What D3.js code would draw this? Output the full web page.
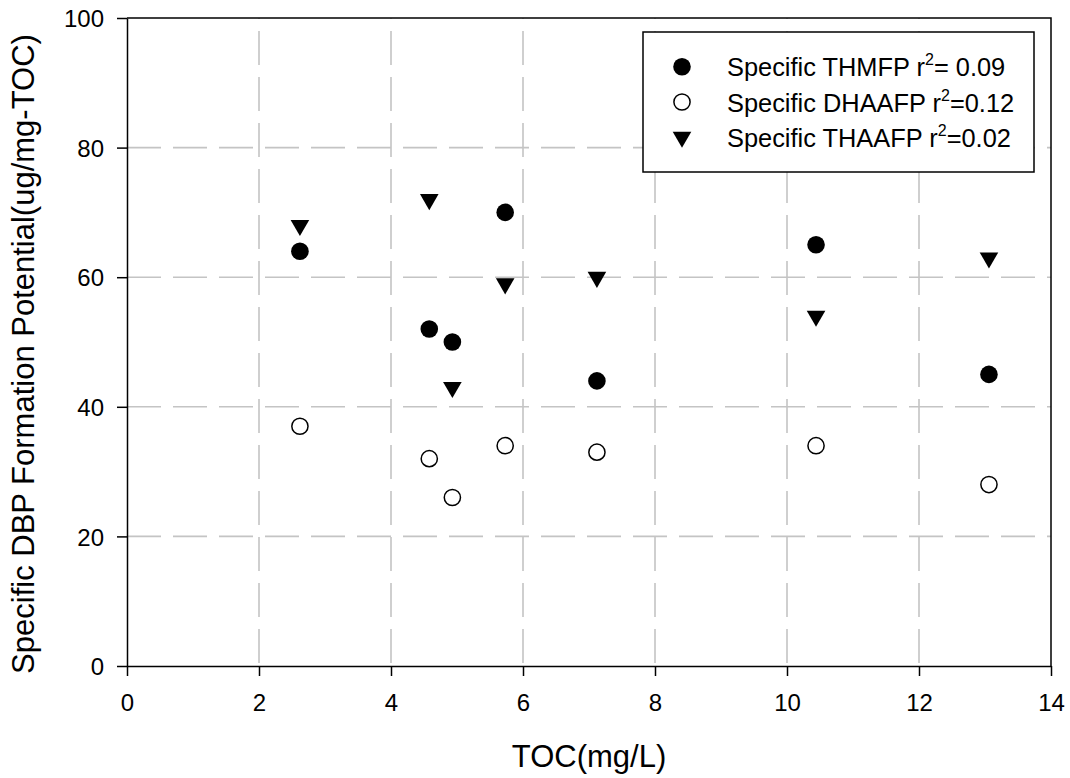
<!DOCTYPE html>
<html>
<head>
<meta charset="utf-8">
<script src="https://cdn.jsdelivr.net/npm/d3@7"></script>
<style>
  html, body { margin: 0; padding: 0; background: #fff; }
  svg { display: block; font-family: "Liberation Sans", Arial, Helvetica, sans-serif; }
</style>
</head>
<body>
<svg id="chart" width="1070" height="778"></svg>
<script>
// TOC of each sample (mg/L)
const toc = [2.62, 4.58, 4.93, 5.73, 7.12, 10.44, 13.06];
// Specific formation potentials (ug/mg-TOC)
const thmfp  = [64, 52, 50, 70, 44, 65, 45];
const dhaafp = [37, 32, 26, 34, 33, 34, 28];
const thaafp = [68, 72, 43, 59, 60, 54, 63];

const xTicks = [0, 2, 4, 6, 8, 10, 12, 14];
const yTicks = [0, 20, 40, 60, 80, 100];

const seriesNames = ["Specific THMFP", "Specific DHAAFP", "Specific THAAFP"];
const seriesR2 = ["= 0.09", "=0.12", "=0.02"];

const svg = d3.select("#chart");
const plotLeft = 127, plotRight = 1051, plotTop = 18, plotBottom = 666;

const x = d3.scaleLinear().domain([0, 14]).range([plotLeft, plotRight]);
const y = d3.scaleLinear().domain([0, 100]).range([plotBottom, plotTop]);

// grid lines
const grid = svg.append("g").attr("stroke", "#c4c4c4").attr("stroke-width", 1.6).attr("fill", "none");
grid.selectAll("line.v").data(xTicks.filter(d => d > 0 && d < 14)).join("line")
  .attr("x1", d => x(d)).attr("x2", d => x(d))
  .attr("y1", plotBottom).attr("y2", plotTop)
  .attr("stroke-dasharray", "34,12").attr("stroke-dashoffset", 43);
grid.selectAll("line.h").data(yTicks.filter(d => d > 0 && d < 100)).join("line")
  .attr("x1", plotLeft).attr("x2", plotRight)
  .attr("y1", d => y(d)).attr("y2", d => y(d))
  .attr("stroke-dasharray", "34,12");

// frame (top and right)
svg.append("path")
  .attr("d", `M${plotLeft},${plotTop}H${plotRight}V${plotBottom}`)
  .attr("fill", "none").attr("stroke", "#000").attr("stroke-width", 1.5);

// axes
const xAxis = svg.append("g").attr("transform", `translate(0,${plotBottom})`)
  .call(d3.axisBottom(x).tickValues(xTicks).tickSize(10).tickSizeOuter(0).tickPadding(18));
const yAxis = svg.append("g").attr("transform", `translate(${plotLeft},0)`)
  .call(d3.axisLeft(y).tickValues(yTicks).tickSize(10).tickSizeOuter(0).tickPadding(13));
[xAxis, yAxis].forEach(g => {
  g.attr("font-size", null).attr("font-family", null);
  g.select(".domain").attr("stroke", "#000").attr("stroke-width", 1.5);
  g.selectAll(".tick line").attr("stroke", "#000").attr("stroke-width", 1.5);
  g.selectAll(".tick text").attr("fill", "#000").style("font-size", "24px");
});
yAxis.selectAll(".tick text").attr("dy", "0.36em");

// axis titles
svg.append("text")
  .attr("x", (plotLeft + plotRight) / 2).attr("y", 767)
  .attr("text-anchor", "middle").style("font-size", "31px")
  .text("TOC(mg/L)");
svg.append("text")
  .attr("transform", `translate(34,354) rotate(-90)`)
  .attr("text-anchor", "middle").style("font-size", "31px")
  .text("Specific DBP Formation Potential(ug/mg-TOC)");

// marker shapes
const circleR = 8.8;
const tri = d3.symbol().type(d3.symbolTriangle).size(150);
function drawMarker(g, kind) {
  if (kind === 0) {
    g.append("circle").attr("r", circleR).attr("fill", "#000");
  } else if (kind === 1) {
    g.append("circle").attr("r", circleR - 0.7).attr("fill", "#fff")
      .attr("stroke", "#000").attr("stroke-width", 1.5);
  } else {
    g.append("path").attr("d", tri).attr("transform", "rotate(180)").attr("fill", "#000");
  }
}

const series = [thmfp, dhaafp, thaafp];
const points = svg.append("g");
series.forEach((vals, k) => {
  vals.forEach((v, i) => {
    const g = points.append("g").attr("transform", `translate(${x(toc[i])},${y(v)})`);
    drawMarker(g, k);
  });
});

// legend
const legend = svg.append("g");
legend.append("rect")
  .attr("x", 643).attr("y", 32).attr("width", 391).attr("height", 140)
  .attr("fill", "#fff").attr("stroke", "#000").attr("stroke-width", 1.5);
const rowY = [66.7, 102, 137];
seriesNames.forEach((name, k) => {
  const g = legend.append("g").attr("transform", `translate(682,${rowY[k]})`);
  drawMarker(g, k);
  const t = legend.append("text")
    .attr("x", 727).attr("y", rowY[k] + 9.5)
    .style("font-size", "25.4px");
  t.append("tspan").text(name + " r");
  t.append("tspan").attr("dy", -11).style("font-size", "16px").text("2");
  t.append("tspan").attr("dy", 11).text(seriesR2[k]);
});
</script>
</body>
</html>
